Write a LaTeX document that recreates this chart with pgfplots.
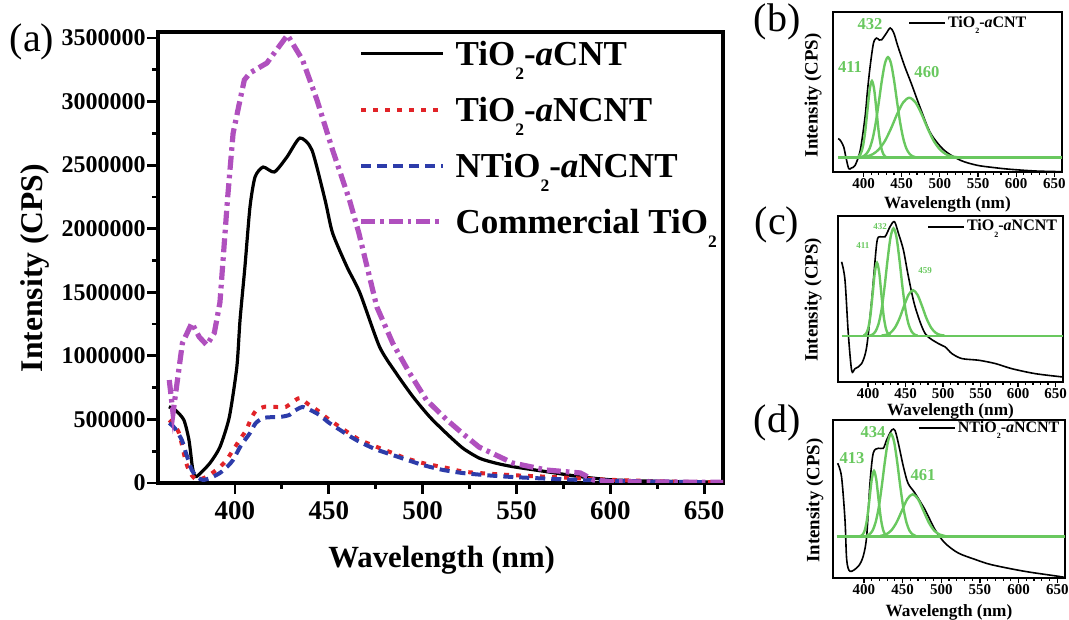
\documentclass[border=0pt]{standalone}
\usepackage{pgfplots}
\pgfplotsset{compat=1.18}
\usepackage{fontspec}
\setmainfont{Liberation Serif}
\usepackage{graphicx}

\definecolor{cred}{RGB}{225,35,40}
\definecolor{cblue}{RGB}{45,60,170}
\definecolor{cmag}{RGB}{176,80,190}
\definecolor{cgreen}{RGB}{105,200,95}

% lowered subscript in the Origin style
\newcommand\sub[1]{\smash{\raisebox{-0.38em}{\scalebox{0.5}{#1}}}}
\newcommand\lstrut{\rule[-2.2pt]{0pt}{16pt}}
\newcommand\istrut{\rule[-0.13em]{0pt}{0.79em}}

\pgfplotsset{
  inset/.style={
    scale only axis,
    xmin=360, xmax=660, ymin=0, ymax=100,
    xtick={400,450,500,550,600,650},
    xticklabels={400,450,500,550,600,650},
    minor x tick num=4,
    ytick=\empty,
    tick align=outside, xtick pos=left,
    major tick length=2.5pt, minor tick length=1.5pt,
    axis line style={line width=1pt},
    tick style={black, line width=0.6pt},
    xticklabel style={font=\bfseries\fontsize{7.5}{9}\selectfont, inner sep=0.6pt},
    xlabel={Wavelength (nm)},
    ylabel={Intensity (CPS)},
    xlabel style={font=\bfseries\fontsize{8.6}{10}\selectfont, anchor=center, inner sep=0pt},
    ylabel style={font=\bfseries\fontsize{9.4}{11}\selectfont, anchor=center},
    legend style={draw=none, fill=none, inner sep=0pt, column sep=1pt,
      nodes={inner sep=0pt}, anchor=west,
      font=\bfseries\fontsize{8}{9}\selectfont},
    legend image code/.code={\draw[#1] (0pt,0pt) -- (18pt,0pt);},
    black curve/.style={black, line width=0.8pt, smooth},
    fit curve/.style={cgreen, line width=1.2pt, smooth, forget plot},
  }
}

\begin{document}
\begin{tikzpicture}
\path[use as bounding box] (0pt,0pt) rectangle (534.5pt,310pt);

% ---------------- (a) main spectra ----------------
\begin{axis}[
  at={(79pt,68.5pt)}, anchor=south west,
  scale only axis, width=282.5pt, height=225.5pt,
  xmin=359, xmax=660, ymin=0, ymax=3547000,
  scaled y ticks=false,
  xtick={400,450,500,550,600,650},
  xticklabels={400,450,500,550,600,650},
  ytick={0,500000,1000000,1500000,2000000,2500000,3000000,3500000},
  yticklabels={0,500000,1000000,1500000,2000000,2500000,3000000,3500000},
  minor x tick num=1, minor y tick num=1,
  tick align=outside, tick pos=left,
  major tick length=5.5pt, minor tick length=3pt,
  axis line style={line width=1.6pt},
  tick style={black, line width=1.4pt},
  yticklabel style={font=\bfseries\fontsize{12}{14}\selectfont, inner sep=0.5pt},
  xticklabel style={font=\bfseries\fontsize{13.5}{15}\selectfont},
  xlabel={Wavelength (nm)},
  ylabel={Intensity (CPS)},
  xlabel style={at={(axis description cs:0.502,-0.1707)}, anchor=center,
    font=\bfseries\fontsize{15.4}{18}\selectfont},
  ylabel style={at={(axis description cs:-0.2177,0.4767)}, anchor=center,
    font=\bfseries\fontsize{15.8}{18}\selectfont},
  legend style={at={(0.354,0.987)}, anchor=north west, draw=none, fill=none,
    inner sep=0pt, row sep=12.7pt, column sep=5pt, nodes={inner sep=0pt},
    font=\bfseries\fontsize{17.5}{20}\selectfont},
  legend cell align=left,
  legend image code/.code={\draw[#1] (0pt,0pt) -- (41pt,0pt);},
]
% TiO2-aCNT
\addplot[black, line width=1.6pt, smooth, tension=0.4] coordinates {
(364.8,600000) (368.5,570000) (372.8,495000) (375.5,338000) (377.3,128000)
(378.7,50000) (381,68000) (386.7,157000) (392,283000) (397,519000) (401,912000)
(402.7,1282000) (405.3,1699000) (408,2171000) (410.7,2407000) (415,2485000)
(421,2446000) (427.7,2564000) (434.6,2713000) (441,2619000) (448,2226000)
(452,1966000) (459.7,1699000) (466.6,1494000) (477,1072000) (485.9,863000)
(494.8,679000) (503.7,521000) (512.6,391000) (521.5,273000) (530.4,194000)
(539.3,155000) (548.2,128000) (566,89000) (583.8,50000) (601.5,24000)
(630,12000) (660,8000)
};
\addlegendentry{\lstrut TiO\sub{2}-\textit{a}CNT}
% TiO2-aNCNT
\addplot[cred, line width=2pt, dash pattern=on 2.4pt off 3.6pt, smooth, tension=0.4] coordinates {
(365,495000) (370,400000) (374,157000) (377,60000) (380,24000) (385,50000)
(390,102000) (395,170000) (399,260000) (403,350000) (406,417000) (409,520000)
(411.6,574000) (416,600000) (422,598000) (427,598000) (431,640000) (434.6,668000)
(439,620000) (443.7,574000) (450,500000) (456,440000) (461,390000) (466.6,338000)
(477,275000) (484,236000) (490,200000) (500,157000) (513,118000) (523,87000)
(546,63000) (565,50000) (580,39000) (600,25000) (630,12000) (660,5000)
};
\addlegendentry{\lstrut TiO\sub{2}-\textit{a}NCNT}
% NTiO2-aNCNT
\addplot[cblue, line width=2pt, dash pattern=on 5pt off 3pt, smooth, tension=0.4] coordinates {
(365,472000) (368,430000) (371.7,338000) (374,230000) (377,102000) (380,45000)
(383,24000) (387,40000) (392,79000) (396,130000) (399,181000) (403,290000)
(408,393000) (411,470000) (415,511000) (420,518000) (424,519000) (429,535000)
(432,570000) (436,598000) (440,575000) (445,535000) (450,475000) (456,417000)
(461,370000) (466.6,322000) (475,265000) (484,220000) (492,180000) (500,142000)
(510,105000) (521,79000) (535,60000) (548,47000) (565,35000) (584,24000)
(610,15000) (635,9000) (660,5000)
};
\addlegendentry{\lstrut NTiO\sub{2}-\textit{a}NCNT}
% Commercial TiO2
\addplot[cmag, line width=2.6pt, dash pattern=on 7pt off 2.5pt on 1.8pt off 2.5pt] coordinates {
(365,810000) (367,550000) (372,1100000) (377,1258000) (381,1148000) (385,1085000)
(389,1180000) (392,1420000) (396,2226000) (399,2750000) (402.7,3012000)
(405,3170000) (408,3225000) (417,3303000) (428,3523000) (436,3327000)
(443.7,3012000) (452,2619000) (461,2226000) (466,1966000) (475.6,1384000)
(484,1101000) (493,865000) (502,653000) (513,495000) (521,393000) (530,283000)
(548,157000) (566,102000) (584,79000) (591,24000) (600,10000) (660,5000)
};
\addlegendentry{\lstrut Commercial TiO\sub{2}}
\end{axis}

% ---------------- (b) TiO2-aCNT deconvolution ----------------
\begin{axis}[inset,
  at={(416.5pt,224pt)}, anchor=south west, width=114.5pt, height=80pt,
  xlabel style={at={(axis description cs:0.5,-0.2)}},
  ylabel style={at={(axis description cs:-0.087,0.48)}},
  legend style={at={(0.3275,0.931)}},
]
\addplot[black curve] coordinates {
(366.8,20.9) (370,19.5) (374,15.7) (377,9) (380.6,2.1) (384,2.5) (389,4.2)
(395.7,13.6) (402,34.5) (405,50) (408.6,65.9) (413,80.5) (417,83.7) (420.5,82.5)
(423.7,82.6) (430,86.8) (435,90.0) (439.7,86.8) (445,78.5) (454,65.9) (462.5,55.4)
(475.4,38.7) (488,24.1) (505.6,13.6) (527,7.3) (548.7,4.2) (570,2.8) (591.8,1.7)
(626,0.6) (660,0.2)
};
\addlegendentry{\istrut TiO\sub{2}-\textit{a}CNT}
\addplot[fit curve] coordinates {(366.8,9) (660,9)};
\addplot[fit curve] coordinates {
(393,9.5) (396,11.1) (399,15.5) (402,24.6) (405,38.1) (408,51.3) (411,56.9)
(414,51.3) (417,38.1) (420,24.6) (423,15.5) (426,11.1) (429,9.5)
};
\addplot[fit curve] coordinates {
(396,9.3) (400,9.9) (404,11.5) (408,14.8) (412,21.0) (416,30.8) (420,43.6)
(424,57.2) (428,67.8) (432,71.8) (436,67.8) (440,57.2) (444,43.6) (448,30.8)
(452,21.0) (456,14.8) (460,11.5) (464,9.9) (468,9.3)
};
\addplot[fit curve] coordinates {
(396,9.2) (404,9.7) (412,11.1) (420,14.1) (428,19.4) (436,27.2) (444,36.2)
(452,43.5) (460,46.4) (468,43.5) (476,36.2) (484,27.2) (492,19.4) (500,14.1)
(508,11.1) (516,9.7) (524,9.2)
};
\node[text=cgreen, font=\bfseries\fontsize{8.3}{9}\selectfont] at (axis cs:408.5,92.5) {432};
\node[text=cgreen, font=\bfseries\fontsize{8.3}{9}\selectfont] at (axis cs:382.3,65.6) {411};
\node[text=cgreen, font=\bfseries\fontsize{8.3}{9}\selectfont] at (axis cs:483,62.5) {460};
\end{axis}

% ---------------- (c) TiO2-aNCNT deconvolution ----------------
\begin{axis}[inset,
  at={(419pt,119pt)}, anchor=south west, width=112.5pt, height=83pt,
  xlabel style={at={(axis description cs:0.5,-0.175)}},
  ylabel style={at={(axis description cs:-0.111,0.494)}},
  legend style={at={(0.396,0.934)}},
]
\addplot[black curve] coordinates {
(364.8,72.4) (369.3,61.4) (373.7,29.2) (378.2,7.0) (382.6,8.0) (391.5,11.1)
(398.2,21.1) (404.9,49.3) (411.6,83.5) (416,87.5) (422.7,87.5) (429.4,93.6)
(435.2,96.6) (440.6,89.5) (447.2,79.5) (453.9,63.4) (462.8,45.3) (476.2,29.2)
(494,23.1) (503,21.1) (511.9,17.1) (525.2,14.1) (547.5,13.1) (569.8,11.1)
(592,8.0) (623.3,5.0) (660,3.0)
};
\addlegendentry{\istrut TiO\sub{2}-\textit{a}NCNT}
\addplot[fit curve] coordinates {(364.8,27.8) (660,27.8)};
\addplot[fit curve] coordinates {
(394,28.0) (397,28.9) (400,31.9) (403,39.3) (406,52.1) (409,65.7) (412,71.8)
(415,65.7) (418,52.1) (421,39.3) (424,31.9) (427,28.9) (430,28.0)
};
\addplot[fit curve] coordinates {
(402,28.0) (406,28.6) (410,30.5) (414,34.9) (418,43.5) (422,57.0) (426,73.3)
(430,87.1) (434,92.6) (438,87.1) (442,73.3) (446,57.0) (450,43.5) (454,34.9)
(458,30.5) (462,28.6) (466,28.0)
};
\addplot[fit curve] coordinates {
(418,28.0) (424,28.4) (430,29.7) (436,32.8) (442,38.3) (448,45.8) (454,52.5)
(460,55.3) (466,52.5) (472,45.8) (478,38.3) (484,32.8) (490,29.7) (496,28.4)
(502,28.0)
};
\node[text=cgreen, font=\bfseries\fontsize{4.5}{5}\selectfont] at (axis cs:416,93.4) {432};
\node[text=cgreen, font=\bfseries\fontsize{4.5}{5}\selectfont] at (axis cs:393.3,82.5) {411};
\node[text=cgreen, font=\bfseries\fontsize{4.5}{5}\selectfont] at (axis cs:476,66.9) {459};
\end{axis}

% ---------------- (d) NTiO2-aNCNT deconvolution ----------------
\begin{axis}[inset,
  at={(416.5pt,21pt)}, anchor=south west, width=116pt, height=79pt,
  xlabel style={at={(axis description cs:0.5,-0.215)}},
  ylabel style={at={(axis description cs:-0.078,0.49)}},
  legend style={at={(0.366,0.949)}},
]
\addplot[black curve] coordinates {
(366,72.6) (371,64.2) (375.5,36.8) (377.7,11.6) (382,4.2) (392.7,7.4) (399,13.7)
(403.5,26.3) (407.8,60) (412,79) (418.6,82.1) (425,82.1) (429.4,87.4) (436,93.7)
(440.2,93.3) (444.5,85.3) (451,70.5) (457,60) (466,53.7) (479,43.2) (492,30.5)
(504.8,22.1) (522,15.8) (544.6,11.6) (565,8.4) (608,4.2) (651,1.1) (660,0.3)
};
\addlegendentry{\istrut NTiO\sub{2}-\textit{a}NCNT}
\addplot[fit curve] coordinates {(364.8,26.3) (660,26.3)};
\addplot[fit curve] coordinates {
(395,26.5) (398,27.3) (401,30.1) (404,37.2) (407,49.2) (410,62.1) (413,67.8)
(416,62.1) (419,49.2) (422,37.2) (425,30.1) (428,27.3) (431,26.5)
};
\addplot[fit curve] coordinates {
(403,26.7) (407,27.6) (411,29.9) (415,35.1) (419,44.3) (423,57.9) (427,73.4)
(431,86.2) (435,91.2) (439,86.2) (443,73.4) (447,57.9) (451,44.3) (455,35.1)
(459,29.9) (463,27.6) (467,26.7)
};
\addplot[fit curve] coordinates {
(421,26.6) (428,27.5) (435,29.9) (442,35.0) (449,42.5) (456,49.9) (463,53.0)
(470,49.9) (477,42.5) (484,35.0) (491,29.9) (498,27.5) (505,26.6)
};
\node[text=cgreen, font=\bfseries\fontsize{8.3}{9}\selectfont] at (axis cs:411.7,92.4) {434};
\node[text=cgreen, font=\bfseries\fontsize{8.3}{9}\selectfont] at (axis cs:384.6,75.9) {413};
\node[text=cgreen, font=\bfseries\fontsize{8.3}{9}\selectfont] at (axis cs:476.4,65.2) {461};
\end{axis}

% panel letters
\node[font=\fontsize{20}{22}\selectfont] at (16pt,289pt) {(a)};
\node[font=\fontsize{20}{22}\selectfont] at (388.5pt,299pt) {(b)};
\node[font=\fontsize{20}{22}\selectfont] at (388.5pt,197.5pt) {(c)};
\node[font=\fontsize{20}{22}\selectfont] at (388.5pt,98.5pt) {(d)};
\end{tikzpicture}
\end{document}
